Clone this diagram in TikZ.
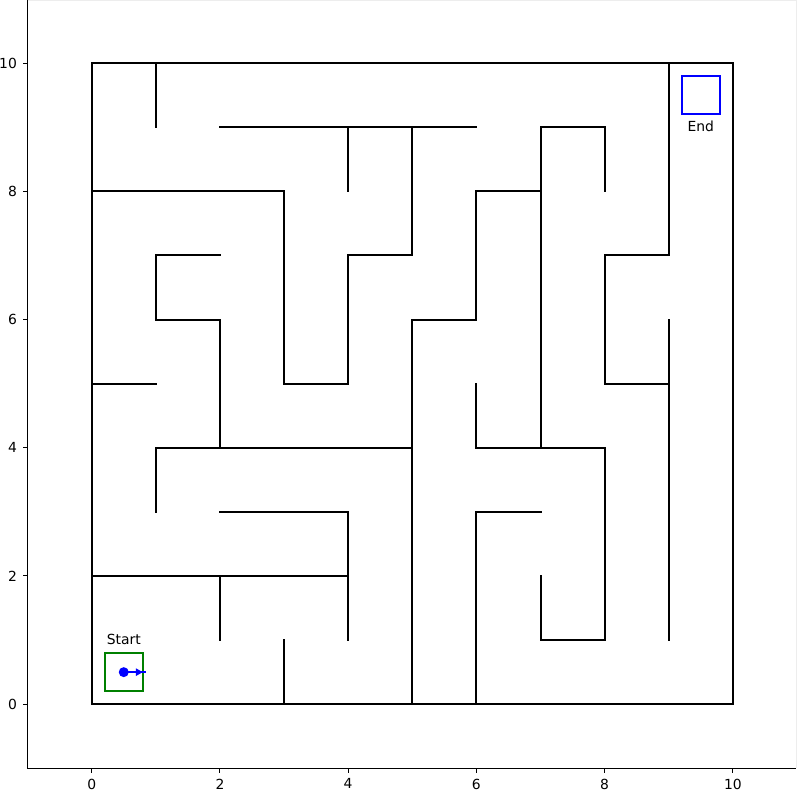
\documentclass[tikz,border=0pt]{standalone}
\usepackage{fontspec}
\setmainfont{DejaVu Sans}
\usetikzlibrary{arrows.meta}
\definecolor{mplgreen}{HTML}{008000}
\definecolor{mplblue}{HTML}{0000FF}
\begin{document}
\begin{tikzpicture}[x=64.13pt,y=64.13pt,
  wall/.style={line width=2pt, line cap=rect, line join=miter},
  spine/.style={line width=1pt},
  tickmark/.style={line width=1pt},
  lbl/.style={font=\fontsize{13.9}{16}\selectfont, inner sep=0pt},
  goalbox/.style={line width=2pt}
]
\useasboundingbox (-1.43,-1.383) rectangle (11.0,10.983);
% axes spines
\draw[spine] (-1,10.983) -- (-1,-1) -- (10.99,-1);
\draw[line width=1pt, black!7] (-1,10.975) -- (10.992,10.975) -- (10.992,-1);
% ticks and labels
\foreach \v in {0,2,4,6,8,10} {
  \draw[tickmark] (\v,-1) -- ++(0,-5pt);
  \node[lbl, anchor=north] (xl\v) at ([yshift=-10.3pt]\v,-1) {\v};
  \draw[tickmark] (-1,\v) -- ++(-5pt,0);
  \node[lbl, anchor=east] (yl\v) at ([xshift=-10.5pt]-1,\v) {\v};
}
% maze walls
\draw[wall] (0,0) rectangle (10,10);
\draw[wall] (1,10) -- (1,9);
\draw[wall] (2,9) -- (6,9);
\draw[wall] (4,9) -- (4,8);
\draw[wall] (0,8) -- (3,8) -- (3,5) -- (4,5) -- (4,7) -- (5,7) -- (5,9);
\draw[wall] (2,7) -- (1,7) -- (1,6) -- (2,6) -- (2,4);
\draw[wall] (0,5) -- (1,5);
\draw[wall] (1,3) -- (1,4) -- (5,4);
\draw[wall] (2,3) -- (4,3) -- (4,1);
\draw[wall] (0,2) -- (4,2);
\draw[wall] (2,2) -- (2,1);
\draw[wall] (3,1) -- (3,0);
\draw[wall] (5,0) -- (5,6) -- (6,6) -- (6,8) -- (7,8);
\draw[wall] (8,8) -- (8,9) -- (7,9) -- (7,4);
\draw[wall] (6,5) -- (6,4) -- (8,4) -- (8,1) -- (7,1) -- (7,2);
\draw[wall] (7,3) -- (6,3) -- (6,0);
\draw[wall] (9,10) -- (9,7) -- (8,7) -- (8,5) -- (9,5);
\draw[wall] (9,6) -- (9,1);
% start and end
\draw[goalbox, mplgreen] (0.2,0.2) rectangle (0.8,0.8);
\node[lbl, anchor=base] (start) at (0.5,0.925) {Start};
\draw[goalbox, mplblue] (9.2,9.2) rectangle (9.8,9.8);
\node[lbl, anchor=base] (end) at (9.5,8.928) {End};
% agent
\coordinate (agent) at (0.5,0.5);
\coordinate (tip) at (0.84,0.5);
\draw[mplblue, line width=2pt] (agent) -- (tip);
\fill[mplblue] (0.69,0.44) -- (0.795,0.5) -- (0.69,0.56) -- cycle;
\fill[mplblue] (agent) circle (5pt);
\end{tikzpicture}
\end{document}
